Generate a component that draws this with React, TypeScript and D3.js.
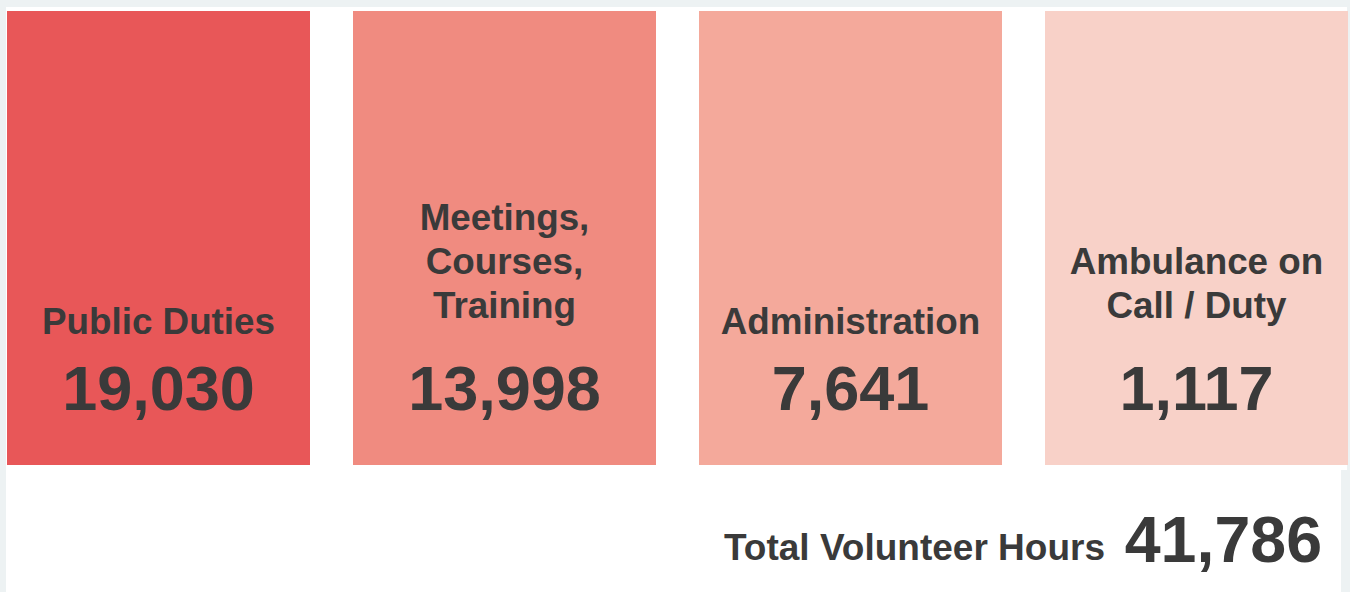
import React, { useRef, useEffect } from "react";
import * as d3 from "d3";

const categories = ["Public Duties", "Meetings, Courses, Training", "Administration", "Ambulance on Call / Duty"];
const labelLines = [["Public Duties"], ["Meetings,", "Courses,", "Training"], ["Administration"], ["Ambulance on", "Call / Duty"]];
const hours = [19030, 13998, 7641, 1117];
const tileColors = ["#e85758", "#f08b80", "#f4a99b", "#f8d1c8"];
const totalLabel = "Total Volunteer Hours";

const W = 1350;
const H = 592;
const FONT = "'Liberation Sans', Arial, Helvetica, sans-serif";
const TEXT = "#3a3a3a";

const App = () => {
	const svgRef = useRef<SVGSVGElement>(null);

	useEffect(() => {
		const svg = d3.select(svgRef.current);
		svg.selectAll("*").remove();

		const fmt = d3.format(",");

		// page background + white panel
		svg.append("rect").attr("width", W).attr("height", H).attr("fill", "#edf2f3");
		svg.append("rect").attr("x", 6).attr("y", 7).attr("width", 1341).attr("height", 463).attr("fill", "#fff");
		svg.append("rect").attr("x", 6).attr("y", 468).attr("width", 1335).attr("height", H - 468).attr("fill", "#fff");

		const x = d3.scaleBand<string>()
			.domain(categories)
			.range([7, 1348])
			.paddingInner(0.1243)
			.paddingOuter(0);

		const top = 11, bottom = 465;

		const tiles = svg.append("g")
			.selectAll("g")
			.data(categories)
			.enter()
			.append("g");

		tiles.append("rect")
			.attr("x", d => x(d)!)
			.attr("y", top)
			.attr("width", x.bandwidth())
			.attr("height", bottom - top)
			.attr("fill", (d, i) => tileColors[i]);

		// label lines: single line sits a bit lower than wrapped ones
		tiles.each(function (d, i) {
			const g = d3.select(this);
			const lines = labelLines[i];
			const cx = x(d)! + x.bandwidth() / 2;
			const last = lines.length === 1 ? 334 : 318;
			lines.forEach((ln, j) => {
				g.append("text")
					.attr("x", cx)
					.attr("y", last - (lines.length - 1 - j) * 44)
					.attr("text-anchor", "middle")
					.attr("font-family", FONT)
					.attr("font-weight", "bold")
					.attr("font-size", 36.8)
					.attr("fill", TEXT)
					.text(ln);
			});
			g.append("text")
				.attr("x", cx)
				.attr("y", 410)
				.attr("text-anchor", "middle")
				.attr("font-family", FONT)
				.attr("font-weight", "bold")
				.attr("font-size", 63)
				.attr("fill", TEXT)
				.text(fmt(hours[i]));
		});

		const total = d3.sum(hours);

		svg.append("text")
			.attr("x", 1105)
			.attr("y", 560)
			.attr("text-anchor", "end")
			.attr("font-family", FONT)
			.attr("font-weight", "bold")
			.attr("font-size", 37)
			.attr("fill", TEXT)
			.text(totalLabel);

		svg.append("text")
			.attr("x", 1322)
			.attr("y", 562)
			.attr("text-anchor", "end")
			.attr("font-family", FONT)
			.attr("font-weight", "bold")
			.attr("font-size", 64.5)
			.attr("fill", TEXT)
			.text(fmt(total));
	}, []);

	return (
		<div>
			<svg ref={svgRef} width={W} height={H} style={{ position: "absolute", left: 0, top: 0 }}></svg>
		</div>
	);
};

export default App;
